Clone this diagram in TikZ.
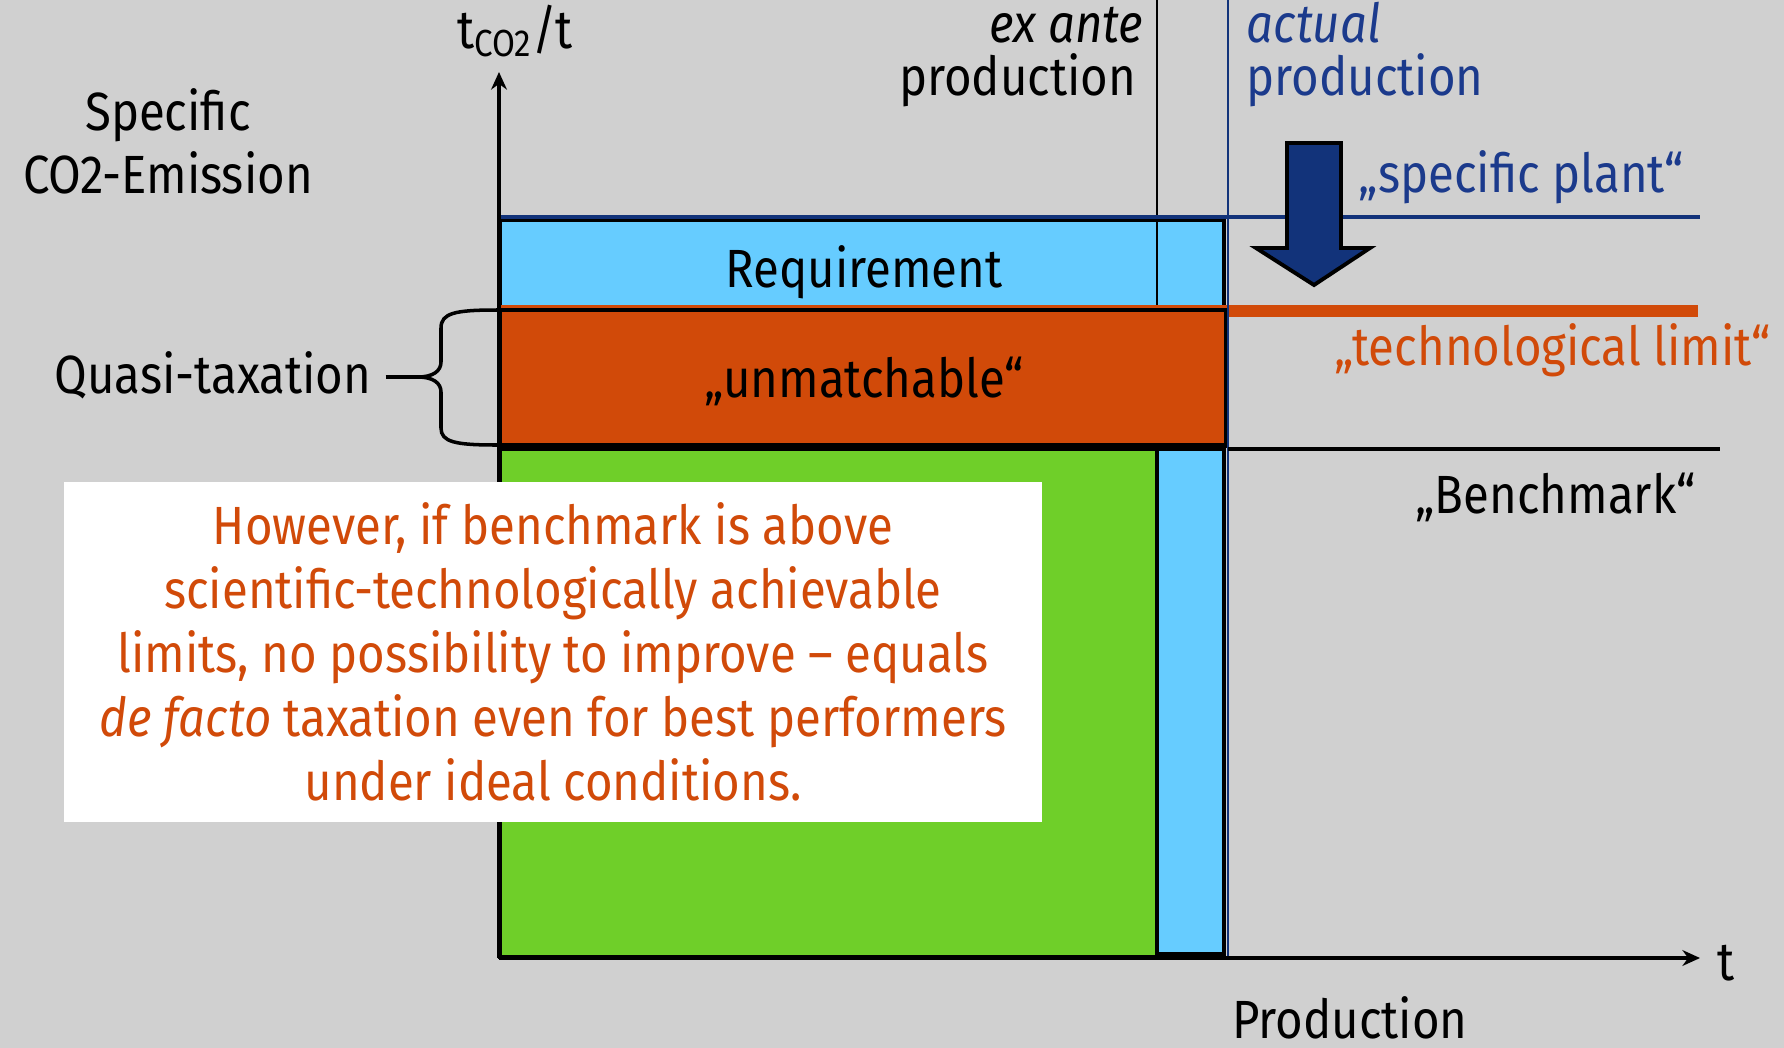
\documentclass[tikz,border=0pt]{standalone}
\usepackage{fontspec}
\setmainfont[FakeStretch=0.88]{Fira Sans}
\usetikzlibrary{positioning,arrows.meta}

\definecolor{bggray}{HTML}{D0D0D0}
\definecolor{skyblue}{HTML}{66CCFF}
\definecolor{orangered}{HTML}{D14A09}
\definecolor{limegreen}{HTML}{6FCF29}
\definecolor{navy}{HTML}{12337A}
\definecolor{navytext}{HTML}{1B3A8C}

\tikzset{
  lbl/.style={inner sep=0pt, font=\fontsize{15.3}{18.2}\selectfont},
  box/.style={draw=black, line width=1.1pt},
  axis/.style={line width=0.9pt, -{Stealth[length=5pt,width=4.5pt]}},
}

\begin{document}
\begin{tikzpicture}[x=0.01cm, y=-0.01cm]
  \fill[bggray] (0,0) rectangle (1784,1048);
  \useasboundingbox (0,0) rectangle (1784,1048);

  \coordinate (o) at (499,958);
  \coordinate (ytip) at (499,72);
  \coordinate (xtip) at (1700,958);
  \coordinate (cusp) at (418,377);

  % production blocks
  \filldraw[fill=skyblue, box] (500,220) rectangle (1224,309);
  \filldraw[fill=skyblue, box] (1157,449) rectangle (1224,954);
  \filldraw[fill=limegreen, box, line width=1.4pt] (500,449) rectangle (1157,957);
  \draw[line width=0.8pt] (1157,0) -- (1157,957);
  \draw[orangered, line width=3.4pt] (500,311) -- (1698,311);
  \filldraw[fill=orangered, box] (500,310) rectangle (1226,446);
  \draw[line width=2.2pt] (500,447) -- (1226,447);

  % reference lines
  \draw[navy, line width=0.8pt] (1228,0) -- (1228,958);
  \draw[navy, line width=0.9pt] (500,217) -- (1700,217);
  \draw[line width=0.9pt] (1228,449) -- (1720,449);

  % axes
  \draw[axis] (o) -- (ytip);
  \draw[axis] (o) -- (xtip);

  % labels
  \node[lbl, anchor=base] (spec) at (168,130) {Specific};
  \node[lbl, anchor=base] (emis) at (168,193) {CO2-Emission};
  \node[lbl, anchor=base] (unit) at (515,48) {t\textsubscript{CO2}/t};
  \node[lbl, anchor=base east] (exante) at (1144,42) {\itshape ex ante};
  \node[lbl, anchor=base east] (prodplan) at (1137,95) {production};
  \node[lbl, anchor=base west, text=navytext] (actual) at (1246,42) {\itshape actual};
  \node[lbl, anchor=base west, text=navytext] (prodact) at (1246,95) {production};
  \node[lbl, anchor=base west, text=navytext] (plant) at (1358,192) {„specific plant“};
  \node[lbl, anchor=base west, text=orangered] (limit) at (1334,365) {„technological limit“};
  \node[lbl, anchor=base west] (bench) at (1415,513) {„Benchmark“};
  \node[lbl, anchor=base] (req) at (864,287) {Requirement};
  \node[lbl, anchor=base] (unmatch) at (864,397) {„unmatchable“};
  \node[lbl, anchor=base west] (quasi) at (54,393) {Quasi-taxation};
  \node[lbl, anchor=base west] (tlabel) at (1717,980) {t};
  \node[lbl, anchor=base] (prod) at (1350,1038) {Production};

  % improvement arrow
  \filldraw[fill=navy, draw=black, line width=1.1pt]
    (1287,143) -- (1341,143) -- (1341,248) -- (1370,248) -- (1314,285)
    -- (1256,248) -- (1287,248) -- cycle;

  % brace
  \draw[line width=1pt] (497,310) .. controls (455,310) and (441,313) .. (441,328)
    -- (441,362) .. controls (441,371) and (433,377) .. (cusp)
    .. controls (433,377) and (441,383) .. (441,392)
    -- (441,428) .. controls (441,442) and (455,445) .. (497,445);
  \draw[line width=1pt, shorten <=4pt] (quasi.east |- cusp) -- (cusp);

  % note
  \node[lbl, fill=white, minimum width=9.78cm, minimum height=3.4cm,
        text=orangered, align=center] (note) at (553,652)
    {However, if benchmark is above\\
     scientific-technologically achievable\\
     limits, no possibility to improve – equals\\
     \textit{de facto} taxation even for best performers\\
     under ideal conditions.};
\end{tikzpicture}
\end{document}
